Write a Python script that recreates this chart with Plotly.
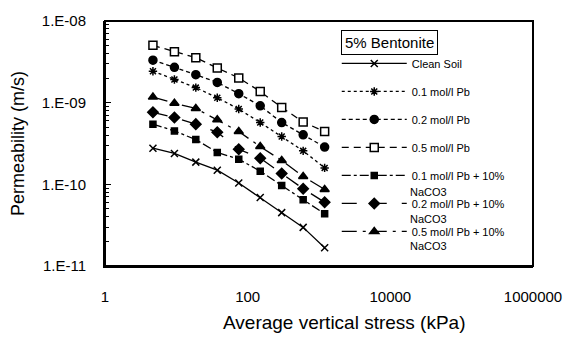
import plotly.graph_objects as go

stress = [4.7, 9.4, 18.75, 37.5, 75, 150, 300, 600, 1200]

clean_soil = [2.77e-10, 2.39e-10, 1.87e-10, 1.49e-10, 1.04e-10, 6.9e-11, 4.5e-11, 2.97e-11, 1.67e-11]
pb_01 = [2.43e-9, 1.92e-9, 1.53e-9, 1.15e-9, 8.36e-10, 5.71e-10, 3.86e-10, 2.57e-10, 1.59e-10]
pb_02 = [3.31e-9, 2.71e-9, 2.20e-9, 1.77e-9, 1.29e-9, 9.14e-10, 5.71e-10, 4.04e-10, 2.86e-10]
pb_05 = [5.03e-9, 4.19e-9, 3.56e-9, 2.66e-9, 2.01e-9, 1.37e-9, 8.73e-10, 5.80e-10, 4.43e-10]
pb_01_na = [5.46e-10, 4.51e-10, 3.53e-10, 2.46e-10, 2.03e-10, 1.45e-10, 9.66e-11, 6.49e-11, 4.35e-11]
pb_02_na = [7.62e-10, 6.60e-10, 5.46e-10, 4.35e-10, 2.69e-10, 2.09e-10, 1.36e-10, 8.83e-11, 6.03e-11]
pb_05_na = [1.17e-9, 9.84e-10, 8.50e-10, 6.19e-10, 4.43e-10, 2.90e-10, 1.96e-10, 1.25e-10, 8.65e-11]

series_names = ["Clean Soil", "0.1 mol/l Pb", "0.2 mol/l Pb", "0.5 mol/l Pb",
                "0.1 mol/l Pb + 10%", "0.2 mol/l Pb + 10%", "0.5 mol/l Pb + 10%"]
series_values = [clean_soil, pb_01, pb_02, pb_05, pb_01_na, pb_02_na, pb_05_na]

x_tick_vals = [1, 100, 10000, 1000000]
x_tick_text = ["1", "100", "10000", "1000000"]
y_tick_vals = [1e-11, 1e-10, 1e-9, 1e-8]
y_tick_text = ["1.E-11", "1.E-10", "1.E-09", "1.E-08"]

styles = [
    dict(dash="solid", symbol="x-thin-open", size=7, fill="black"),
    dict(dash="dot", symbol="asterisk-open", size=7, fill="black"),
    dict(dash="4px,3px", symbol="circle", size=8, fill="black"),
    dict(dash="7px,5px", symbol="square", size=8, fill="white"),
    dict(dash="dashdot", symbol="square", size=6, fill="black"),
    dict(dash="longdash", symbol="diamond", size=8, fill="black"),
    dict(dash="longdashdot", symbol="triangle-up", size=8, fill="black"),
]

FONT = "Liberation Sans, Arial, sans-serif"
LEGEND_SIZE = 11
fig = go.Figure()
for i, (name, vals, st) in enumerate(zip(series_names, series_values, styles)):
    fig.add_trace(go.Scatter(
        x=stress, y=vals, name=name, mode="lines+markers", legendgroup=f"g{i}",
        line=dict(color="black", width=1.3, dash=st["dash"]),
        marker=dict(symbol=st["symbol"], size=st["size"], color=st["fill"],
                    line=dict(color="black", width=1.5)),
    ))

plot_l, plot_r, plot_t, plot_b = 105, 539, 12, 266
def px_to_paper_y(py):
    return 1 - (py - plot_t) / (plot_b - plot_t)
def px_to_paper_x(px):
    return (px - plot_l) / (plot_r - plot_l)

# second-line labels for the NaCO3 legend entries
first_item, spacing = 63, 28
for k in [4, 5, 6]:
    py = first_item + k * spacing + 14
    fig.add_annotation(x=px_to_paper_x(412), y=px_to_paper_y(py), xref="paper", yref="paper",
                       text="NaCO3", showarrow=False, xanchor="left", yanchor="middle",
                       font=dict(family=FONT, size=LEGEND_SIZE, color="black"))

fig.add_annotation(x=px_to_paper_x(393), y=px_to_paper_y(34), xref="paper", yref="paper",
                   text="5% Bentonite", showarrow=False, xanchor="center", yanchor="middle",
                   font=dict(family=FONT, size=15, color="black"),
                   bordercolor="black", borderwidth=1, borderpad=3, bgcolor="white")

fig.add_annotation(x=px_to_paper_x(348), y=px_to_paper_y(325), xref="paper", yref="paper",
                   text="Average vertical stress (kPa)", showarrow=False,
                   xanchor="center", yanchor="middle",
                   font=dict(family=FONT, size=19, color="black"))

# plot-area frame
fig.add_shape(type="rect", xref="paper", yref="paper", x0=0, x1=1, y0=0, y1=1,
              line=dict(color="black", width=2), fillcolor="rgba(0,0,0,0)", layer="above")

fig.update_layout(
    width=574, height=346,
    margin=dict(l=plot_l, r=574 - plot_r, t=plot_t, b=346 - plot_b),
    paper_bgcolor="white", plot_bgcolor="white",
    font=dict(family=FONT, color="black", size=15),
    showlegend=True,
    legend=dict(x=px_to_paper_x(340), y=px_to_paper_y(41), xanchor="left", yanchor="top",
                bgcolor="rgba(0,0,0,0)", borderwidth=0, itemwidth=65,
                tracegroupgap=9, font=dict(family=FONT, size=LEGEND_SIZE, color="black")),
    xaxis=dict(type="log", range=[0, 6], tickvals=x_tick_vals, ticktext=x_tick_text,
               showgrid=False, zeroline=False, showline=True, linecolor="black", linewidth=2,
               ticks="", ticklabelstandoff=16,
               tickfont=dict(family=FONT, size=15)),
    yaxis=dict(type="log", range=[-11, -8], tickvals=y_tick_vals, ticktext=y_tick_text,
               showgrid=False, zeroline=False, showline=True, linecolor="black", linewidth=2,
               ticks="inside", ticklen=6, tickcolor="black", tickwidth=1,
               ticklabelstandoff=14,
               minor=dict(ticks="inside", ticklen=4, tickcolor="black", dtick="D1", showgrid=False),
               tickfont=dict(family=FONT, size=15),
               title=dict(text="Permeability (m/s)", standoff=12,
                          font=dict(family=FONT, size=18))),
)

fig.write_html("out.html")
